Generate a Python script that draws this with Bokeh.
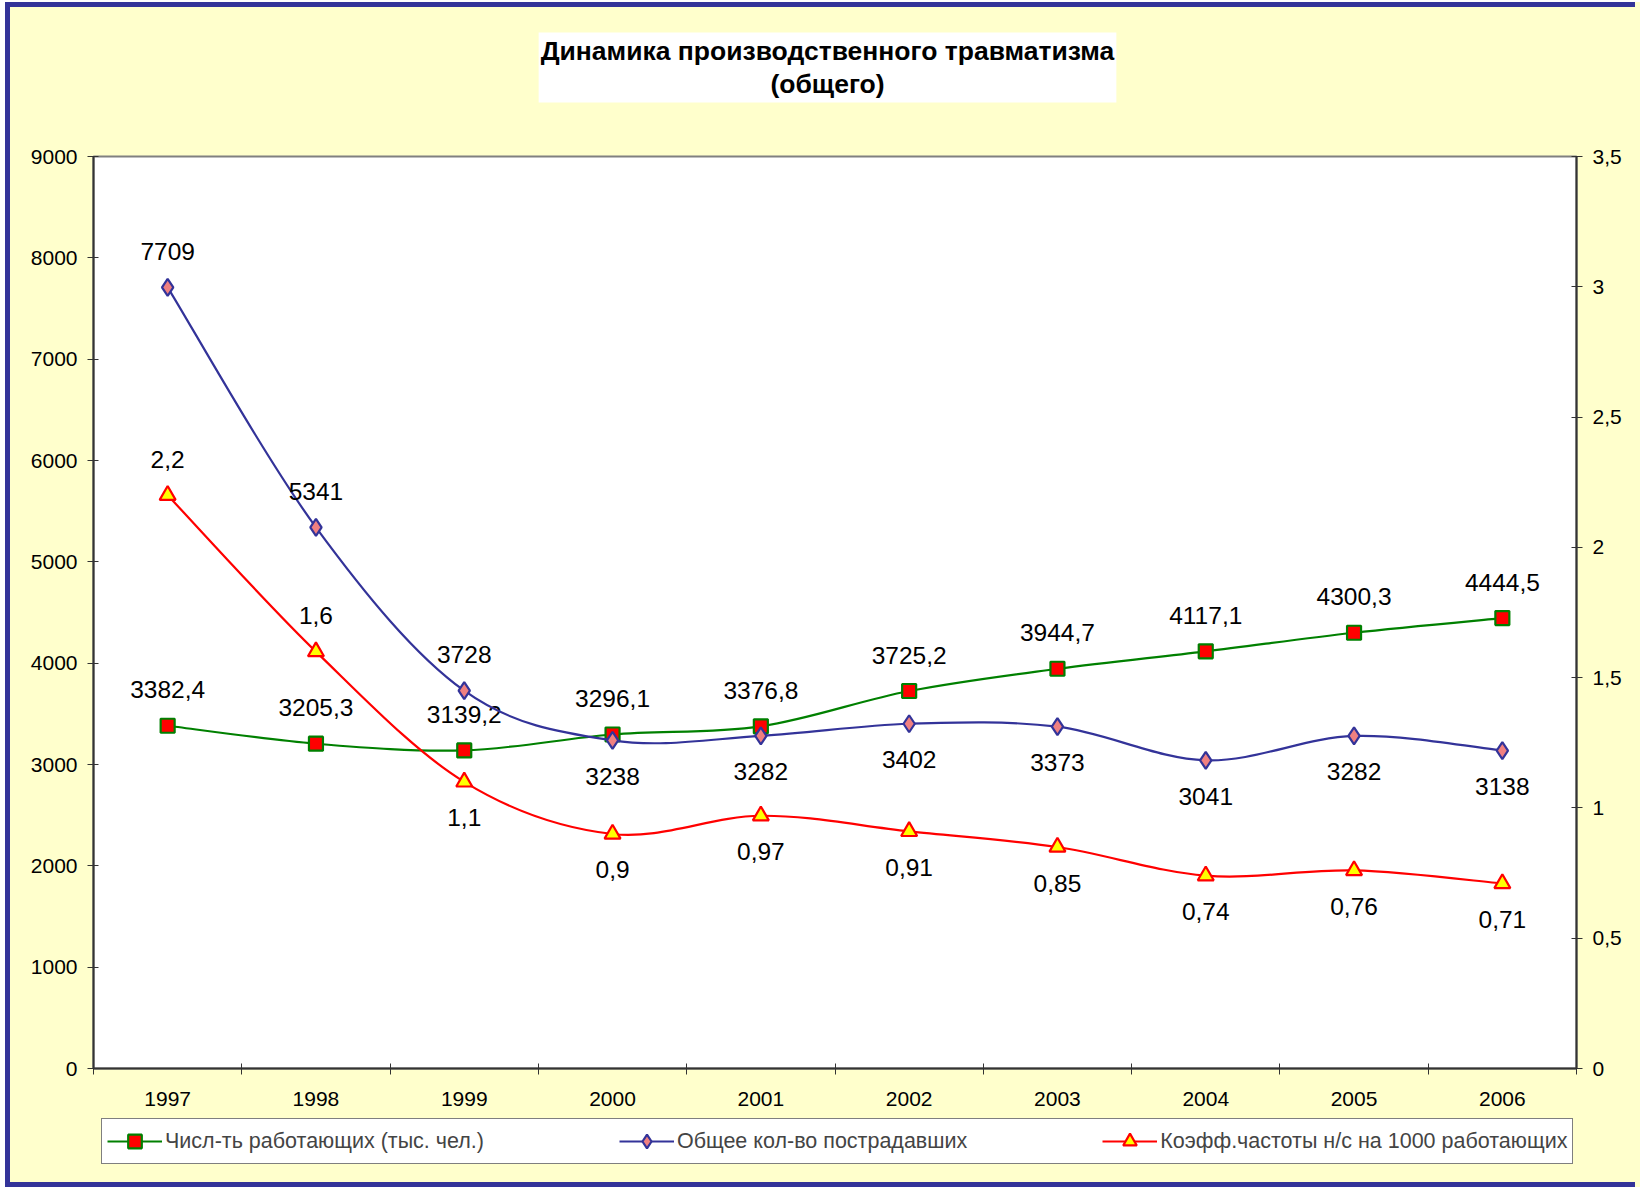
import numpy as np
from bokeh.plotting import figure
from bokeh.layouts import column
from bokeh.models import (Range1d, LinearAxis, FixedTicker, CustomJSTickFormatter,
                          Legend, LegendItem, Label)
from bokeh.core.properties import value
from bokeh.embed import file_html
from bokeh.resources import INLINE

# ---------------- data ----------------
years = [1997, 1998, 1999, 2000, 2001, 2002, 2003, 2004, 2005, 2006]
workers = [3382.4, 3205.3, 3139.2, 3296.1, 3376.8, 3725.2, 3944.7, 4117.1, 4300.3, 4444.5]
injured = [7709, 5341, 3728, 3238, 3282, 3402, 3373, 3041, 3282, 3138]
freq = [2.2, 1.6, 1.1, 0.9, 0.97, 0.91, 0.85, 0.74, 0.76, 0.71]
left_ticks = [0, 1000, 2000, 3000, 4000, 5000, 6000, 7000, 8000, 9000]
right_ticks = [0, 0.5, 1, 1.5, 2, 2.5, 3, 3.5]
series_names = ["Числ-ть работающих (тыс. чел.)",
                "Общее кол-во пострадавших",
                "Коэфф.частоты н/с на 1000 работающих"]
title_text = "Динамика производственного травматизма\n(общего)"

# label placement (above / below the point)
workers_pos = ["above"] * 10
injured_pos = ["above"] * 3 + ["below"] * 7
freq_pos = ["above"] * 2 + ["below"] * 8

FONT = "Liberation Sans"
BG = "#FFFFCC"
DARK = "#333333"
NAVY = "#333399"
W = 1640
H_MAIN, H_LEG = 1116, 71

p = figure(width=W, height=H_MAIN, output_backend="svg", toolbar_location=None,
           x_range=Range1d(1996.5, 2006.5), y_range=Range1d(0, 9000),
           min_border_left=93, min_border_right=64, min_border_top=156,
           min_border_bottom=48,
           background_fill_color="white", border_fill_alpha=0,
           outline_line_color="#808080", outline_line_width=2)
p.extra_y_ranges = {"right": Range1d(0, 3.5)}
p.grid.visible = False


def style_axis(ax, size="21px"):
    ax.major_label_text_font = FONT
    ax.major_label_text_font_size = size
    ax.major_label_text_color = "black"
    ax.axis_line_color = DARK
    ax.axis_line_width = 2
    ax.major_tick_line_color = DARK
    ax.major_tick_line_width = 1
    ax.minor_tick_line_color = None


xa = p.xaxis[0]
style_axis(xa)
xa.ticker = FixedTicker(ticks=years,
                        minor_ticks=[y - 0.5 for y in years] + [years[-1] + 0.5])
xa.major_tick_line_color = None
xa.major_tick_in = 0
xa.major_tick_out = 0
xa.minor_tick_line_color = DARK
xa.minor_tick_in = 5
xa.minor_tick_out = 6
xa.major_label_standoff = 17

ya = p.yaxis[0]
style_axis(ya)
ya.ticker = FixedTicker(ticks=left_ticks)
ya.major_tick_in = 5
ya.major_tick_out = 6
ya.major_label_standoff = 10

yr = LinearAxis(y_range_name="right")
style_axis(yr)
yr.ticker = FixedTicker(ticks=right_ticks)
yr.formatter = CustomJSTickFormatter(code="return tick.toString().replace('.', ',');")
yr.major_tick_in = 5
yr.major_tick_out = 6
yr.major_label_standoff = 10
p.add_layout(yr, "right")


def smooth(xs, ys):
    x = np.asarray(xs, float)
    y = np.asarray(ys, float)
    n = len(x)
    xp = np.concatenate([[x[0]], x, [x[-1]]])
    yp = np.concatenate([[y[0]], y, [y[-1]]])
    cx0 = xp[1:n] + (xp[2:n + 1] - xp[0:n - 1]) / 6.0
    cy0 = yp[1:n] + (yp[2:n + 1] - yp[0:n - 1]) / 6.0
    cx1 = xp[2:n + 1] - (xp[3:n + 2] - xp[1:n]) / 6.0
    cy1 = yp[2:n + 1] - (yp[3:n + 2] - yp[1:n]) / 6.0
    return dict(x0=x[:-1], y0=y[:-1], x1=x[1:], y1=y[1:],
                cx0=cx0, cy0=cy0, cx1=cx1, cy1=cy1)


def fmt(v):
    return f"{v:g}".replace(".", ",")


series = [
    dict(vals=workers, name=series_names[0], line="#008000", marker="square",
         fill="#FF0000", mline="#008000", size=14, pos=workers_pos, rng="default"),
    dict(vals=injured, name=series_names[1], line=NAVY, marker="diamond",
         fill="#F08080", mline=NAVY, size=17, pos=injured_pos, rng="default"),
    dict(vals=freq, name=series_names[2], line="#FF0000", marker="triangle",
         fill="#FFFF00", mline="#FF0000", size=16, pos=freq_pos, rng="right"),
]

title = Label(x=827, y=67, x_units="canvas", y_units="canvas",
              text=title_text, text_align="center", text_baseline="middle",
              text_font=FONT, text_font_style="bold", text_font_size="26.5px",
              text_color="black", text_line_height=1.07,
              background_fill_color="white", background_fill_alpha=1.0)
try:
    title.padding = dict(left=2, right=2, top=4, bottom=4)
except Exception:
    try:
        title.padding = 2
    except Exception:
        pass
p.add_layout(title, "above")

# ---------- legend strip (second figure, same yellow page) ----------
q = figure(width=W, height=H_LEG, output_backend="svg", toolbar_location=None,
           x_range=Range1d(1996.5, 2006.5), y_range=Range1d(0, 9000),
           x_axis_type=None, y_axis_type=None, min_border=0,
           background_fill_alpha=0, border_fill_alpha=0, outline_line_color=None)
q.extra_y_ranges = {"right": Range1d(0, 3.5)}

items = []
for s in series:
    kw = {} if s["rng"] == "default" else {"y_range_name": "right"}
    p.bezier(source=smooth(years, s["vals"]), x0="x0", y0="y0", x1="x1", y1="y1",
             cx0="cx0", cy0="cy0", cx1="cx1", cy1="cy1",
             line_color=s["line"], line_width=2.2, **kw)
    p.scatter(years, s["vals"], marker=s["marker"], size=s["size"],
              fill_color=s["fill"], line_color=s["mline"], line_width=2.2, **kw)
    offs = [-36 if q_ == "above" else 36 for q_ in s["pos"]]
    p.text(x=years, y=s["vals"], text=[fmt(v) for v in s["vals"]],
           y_offset=offs, text_align="center", text_baseline="middle",
           text_font=value(FONT), text_font_size="24.5px", text_color="black", **kw)
    # legend samples (not shown on the strip itself)
    lg = q.line(years, s["vals"], line_color=s["line"], line_width=2.2,
                visible=False, **kw)
    sc = q.scatter(years, s["vals"], marker=s["marker"], size=s["size"],
                   fill_color=s["fill"], line_color=s["mline"], line_width=2.2,
                   visible=False, **kw)
    items.append(LegendItem(label=s["name"], renderers=[lg, sc]))

legend = Legend(items=items, orientation="horizontal", location=(8, 23),
                margin=0, spacing=135, padding=5, glyph_width=55, glyph_height=34,
                label_standoff=3, label_height=22,
                label_text_font=FONT, label_text_font_size="21.5px",
                background_fill_color="white", background_fill_alpha=1,
                border_line_color="black", border_line_width=1)
q.add_layout(legend)

layout = column(p, q, spacing=0)
band = f"linear-gradient({NAVY},{NAVY})"
white = "linear-gradient(#ffffff,#ffffff)"
layout.styles = {"background": ", ".join([
    f"{band} 5px 2px / 5px 1185px no-repeat",
    f"{band} 5px 2px / 1630px 5px no-repeat",
    f"{band} 5px 1182px / 1630px 5px no-repeat",
    f"{white} 0 0 / 5px 1187px no-repeat",
    f"{white} 0 0 / 1640px 2px no-repeat",
    BG])}

open("out.html", "w").write(file_html(layout, INLINE))
